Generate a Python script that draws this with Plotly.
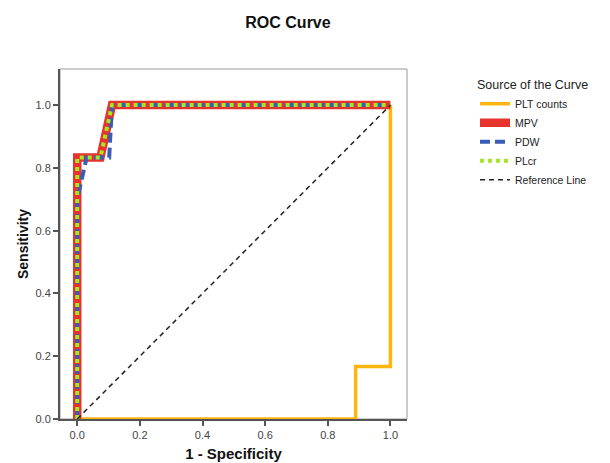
import plotly.graph_objects as go

# ROC data (1 - Specificity, Sensitivity)
plt_x = [0.0, 0.889, 0.889, 1.0, 1.0]
plt_y = [0.0, 0.0, 0.167, 0.167, 1.0]

mpv_x = [0.0, 0.0, 0.074, 0.111, 1.0]
mpv_y = [0.0, 0.833, 0.833, 1.0, 1.0]

pdw_x = [0.0, 0.0, 0.03, 0.102, 0.111, 1.0]
pdw_y = [0.0, 0.70, 0.833, 0.833, 1.0, 1.0]

plcr_x = [0.0, 0.0, 0.074, 0.111, 1.0]
plcr_y = [0.0, 0.833, 0.833, 1.0, 1.0]

ref_x = [0.0, 1.0]
ref_y = [0.0, 1.0]

tick_vals = [0.0, 0.2, 0.4, 0.6, 0.8, 1.0]
tick_text = ["0.0", "0.2", "0.4", "0.6", "0.8", "1.0"]

font = "Liberation Sans, Arial, sans-serif"

# page body adds an 8px offset; figure sized to fit the 610x463 window
W, H = 602, 455

fig = go.Figure()
fig.add_trace(go.Scatter(x=plt_x, y=plt_y, mode="lines", name="PLT counts",
                         line=dict(color="#FDB50F", width=3.5)))
fig.add_trace(go.Scatter(x=mpv_x, y=mpv_y, mode="lines", name="MPV",
                         line=dict(color="#E8322E", width=8.5)))
fig.add_trace(go.Scatter(x=pdw_x, y=pdw_y, mode="lines", name="PDW",
                         line=dict(color="#3B5BB5", width=4, dash="10px,5px")))
fig.add_trace(go.Scatter(x=plcr_x, y=plcr_y, mode="lines", name="PLcr",
                         line=dict(color="#A3E820", width=4, dash="dot")))
fig.add_trace(go.Scatter(x=ref_x, y=ref_y, mode="lines", name="Reference Line",
                         line=dict(color="#222222", width=1.5, dash="5px,4px")))

fig.update_layout(
    width=W, height=H,
    paper_bgcolor="white", plot_bgcolor="white",
    margin=dict(l=52, r=203, t=61, b=44),
    font=dict(family=font, color="#333333"),
    title=dict(text="<b>ROC Curve</b>", x=280/W, xanchor="center",
               y=1 - 14/H, yanchor="middle", xref="container", yref="container",
               font=dict(size=16, color="#111111", family=font)),
    xaxis=dict(range=[-0.055, 1.053], tickvals=tick_vals, ticktext=tick_text,
               showgrid=False, zeroline=False, showline=True, linecolor="#555555",
               linewidth=2, ticks="outside", ticklen=5, tickwidth=1.5, tickcolor="#555555",
               tickfont=dict(size=11, color="#444444"), automargin=False,
               title=dict(text="<b>1 - Specificity</b>", standoff=8,
                          font=dict(size=15, color="#111111"))),
    yaxis=dict(range=[0, 1.115], tickvals=tick_vals, ticktext=tick_text,
               showgrid=False, zeroline=False, showline=True, linecolor="#555555",
               linewidth=2, ticks="outside", ticklen=5, tickwidth=1.5, tickcolor="#555555",
               tickfont=dict(size=11, color="#444444"), automargin=False,
               title=dict(text="<b>Sensitivity</b>", standoff=4,
                          font=dict(size=14, color="#111111"))),
    legend=dict(x=467/W, xref="container", y=1 - 65/H, yref="container",
                xanchor="left", yanchor="top",
                title=dict(text="Source of the Curve", font=dict(size=12.5, color="#222222")),
                font=dict(size=10.5, color="#222222"), tracegroupgap=0,
                itemwidth=30, bgcolor="rgba(0,0,0,0)"),
    shapes=[dict(type="rect", xref="paper", yref="paper", x0=0, y0=0, x1=1, y1=1,
                 line=dict(color="#999999", width=1), layer="below")],
)

fig.write_html("out.html")
